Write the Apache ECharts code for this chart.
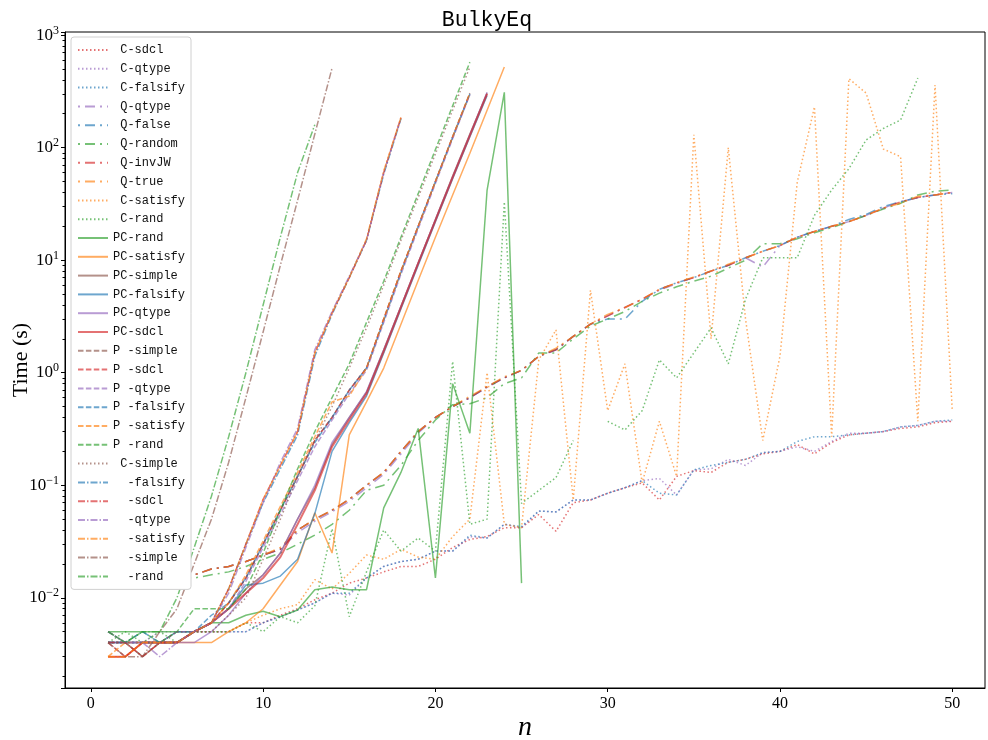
<!DOCTYPE html>
<html>
<head>
<meta charset="utf-8">
<script src="https://cdn.jsdelivr.net/npm/echarts@6/dist/echarts.min.js"></script>
<style>
  html, body { margin: 0; padding: 0; background: #fff; }
  #chart { width: 988px; height: 740px; }
</style>
</head>
<body>
<div id="chart"></div>
<script>
const nValues = [1, 2, 3, 4, 5, 6, 7, 8, 9, 10, 11, 12, 13, 14, 15, 16, 17, 18, 19, 20,
  21, 22, 23, 24, 25, 26, 27, 28, 29, 30, 31, 32, 33, 34, 35, 36, 37, 38, 39, 40,
  41, 42, 43, 44, 45, 46, 47, 48, 49, 50]

const xTicks = [0, 10, 20, 30, 40, 50]
const yMinorTicks = [0.002, 0.003, 0.004, 0.005, 0.006, 0.007, 0.008, 0.009,
  0.02, 0.03, 0.04, 0.05, 0.06, 0.07, 0.08, 0.09,
  0.2, 0.3, 0.4, 0.5, 0.6, 0.7, 0.8, 0.9,
  2, 3, 4, 5, 6, 7, 8, 9, 20, 30, 40, 50, 60, 70, 80, 90,
  200, 300, 400, 500, 600, 700, 800, 900]

// C- (dotted)
const cSdcl = [0.004, 0.004, 0.004, 0.004, 0.004, 0.005, 0.005, 0.005, 0.006, 0.006,
  0.007, 0.008, 0.0096, 0.011, 0.0135, 0.015, 0.017, 0.019, 0.019, 0.022,
  0.028, 0.033, 0.035, 0.042, 0.042, 0.055, 0.039, 0.07, 0.074, 0.085,
  0.095, 0.105, 0.074, 0.12, 0.135, 0.13, 0.16, 0.17, 0.19, 0.2,
  0.23, 0.19, 0.24, 0.28, 0.29, 0.3, 0.32, 0.33, 0.36, 0.37]
const cQtype = [0.005, 0.004, 0.004, 0.005, 0.005, 0.005, 0.005, 0.005, 0.005, 0.006,
  0.0068, 0.0078, 0.009, 0.011, 0.0106, 0.015, 0.019, 0.021, 0.022, 0.026,
  0.026, 0.035, 0.034, 0.045, 0.042, 0.059, 0.058, 0.074, 0.074, 0.085,
  0.095, 0.11, 0.115, 0.082, 0.137, 0.14, 0.17, 0.15, 0.195, 0.2,
  0.22, 0.2, 0.245, 0.29, 0.29, 0.3, 0.33, 0.34, 0.37, 0.37]
const cFalsify = [0.004, 0.004, 0.004, 0.004, 0.005, 0.005, 0.005, 0.005, 0.005, 0.006,
  0.0068, 0.0078, 0.009, 0.011, 0.011, 0.015, 0.019, 0.021, 0.022, 0.026,
  0.026, 0.036, 0.034, 0.045, 0.043, 0.059, 0.058, 0.074, 0.074, 0.085,
  0.095, 0.11, 0.085, 0.082, 0.137, 0.15, 0.16, 0.17, 0.195, 0.2,
  0.245, 0.27, 0.27, 0.28, 0.29, 0.3, 0.33, 0.34, 0.37, 0.38]
const cSatisfy = [0.004, 0.004, 0.004, 0.004, 0.004, 0.005, 0.005, 0.005, 0.006, 0.007,
  0.008, 0.0087, 0.0145, 0.012, 0.0165, 0.024, 0.022, 0.027, 0.023, 0.022,
  0.035, 0.05, 1.0, 0.045, 0.042, 1.3, 2.4, 0.074, 5.4, 0.46,
  1.2, 0.105, 0.37, 0.12, 130, 2.0, 100, 3.0, 0.25, 1.4,
  49, 230, 0.27, 410, 305, 97, 83, 0.37, 360, 0.46]
const cRand = [0.004, 0.005, 0.004, 0.005, 0.004, 0.005, 0.005, 0.005, 0.006, 0.005,
  0.0068, 0.006, 0.0085, 0.041, 0.0068, 0.017, 0.04, 0.026, 0.034, 0.026,
  1.26, 0.045, 0.05, 33, 0.069, 0.09, 0.117, 0.25, null, 0.37,
  0.31, 0.46, 1.3, 0.9, 1.5, 2.5, 1.2, 4.5, 10.5, 10.5,
  10.5, 25, 42, 65, 117, 148, 176, 415]
const cSimple = [0.004, 0.004, 0.004, 0.004, 0.005, 0.005, 0.005, 0.007, 0.01, 0.022,
  0.05, 0.12, 0.25, 0.5, 1.1, 2.5, 6, 15, 36, 88, 215, 520]

// Q- (long dash-dot)
const qQtype = [0.015, 0.015, 0.015, 0.015, 0.015, 0.016, 0.018, 0.019, 0.021, 0.024,
  0.027, 0.038, 0.048, 0.058, 0.072, 0.095, 0.125, 0.19, 0.29, 0.4,
  0.5, 0.6, 0.74, 0.9, 1.05, 1.4, 1.6, 2.1, 2.7, 3.2,
  3.8, 4.5, 5.4, 6.2, 7.0, 8.0, 9.0, 10.5, 8.7, 13.5,
  16, 18, 20, 22, 25, 29, 33, 36, 38, 40]
const qFalse = [0.015, 0.015, 0.015, 0.015, 0.015, 0.016, 0.018, 0.019, 0.021, 0.024,
  0.027, 0.04, 0.05, 0.06, 0.075, 0.1, 0.13, 0.2, 0.3, 0.4,
  0.5, 0.6, 0.75, 0.9, 1.05, 1.4, 1.6, 2.1, 2.7, 3.0,
  3.0, 4.3, 5.5, 6.3, 7.0, 8.0, 9.0, 10.5, 12, 13.5,
  16, 18, 20, 23, 25.5, 30, 33, 36, 38, 39]
const qRandom = [0.015, 0.015, 0.015, 0.015, 0.015, 0.015, 0.016, 0.017, 0.019, 0.022,
  0.025, 0.03, 0.036, 0.045, 0.06, 0.09, 0.1, 0.15, 0.25, 0.38,
  0.52, 0.53, 0.6, 0.8, 0.9, 1.5, 1.5, 2.0, 2.6, 3.0,
  3.5, 4.3, 5.1, 5.8, 6.5, 7.2, 8.5, 10, 14, 14,
  15.5, 17.5, 19.5, 22, 25, 28.5, 32, 38, 41, 42]
const qInvJW = [0.015, 0.015, 0.015, 0.015, 0.015, 0.016, 0.018, 0.019, 0.021, 0.024,
  0.027, 0.04, 0.05, 0.06, 0.075, 0.1, 0.13, 0.2, 0.3, 0.4,
  0.5, 0.6, 0.75, 0.9, 1.05, 1.4, 1.6, 2.1, 2.7, 3.2,
  3.8, 4.5, 5.5, 6.3, 7.0, 8.0, 9.0, 10.5, 12, 13.5,
  16, 18, 20, 22, 25, 29, 33, 36, 38, 40]
const qTrue = [0.015, 0.015, 0.015, 0.015, 0.015, 0.016, 0.018, 0.019, 0.021, 0.024,
  0.028, 0.04, 0.05, 0.06, 0.075, 0.1, 0.13, 0.2, 0.3, 0.4,
  0.5, 0.62, 0.75, 0.92, 1.05, 1.4, 1.65, 2.1, 2.7, 3.3,
  3.8, 4.5, 5.5, 6.3, 7.1, 8.0, 9.2, 10.5, 12, 13.5,
  16, 18, 20, 22, 25, 29, 32, 37, 38, 40]

// PC- (solid)
const pcRand = [0.005, 0.005, 0.005, 0.005, 0.005, 0.005, 0.006, 0.006, 0.007, 0.0076,
  0.0068, 0.0078, 0.0118, 0.0125, 0.0118, 0.0118, 0.063, 0.13, 0.32, 0.015,
  0.8, 0.29, 42, 310, 0.0135]
const pcSatisfy = [0.003, 0.003, 0.004, 0.004, 0.004, 0.004, 0.004, 0.005, 0.006, 0.008,
  0.013, 0.021, 0.057, 0.025, 0.28, 0.55, 1.1, 2.7, 6.6, 16,
  38, 89, 215, 520]
const pcSimple = [0.004, 0.004, 0.003, 0.004, 0.004, 0.005, 0.006, 0.008, 0.012, 0.016,
  0.025, 0.05, 0.095, 0.23, 0.4, 0.67, 1.6, 3.9, 9.5, 23,
  56, 132, 305]
const pcFalsify = [0.004, 0.004, 0.004, 0.004, 0.005, 0.005, 0.006, 0.008, 0.013, 0.0135,
  0.0156, 0.022, 0.056, 0.2, 0.36, 0.62, 1.5, 3.7, 9, 22,
  53, 125, 290]
const pcQtype = [0.004, 0.004, 0.004, 0.004, 0.004, 0.004, 0.005, 0.007, 0.011, 0.016,
  0.025, 0.05, 0.1, 0.24, 0.4, 0.68, 1.6, 3.9, 9.5, 23,
  55, 130, 310]
const pcSdcl = [0.003, 0.003, 0.004, 0.004, 0.004, 0.005, 0.006, 0.008, 0.011, 0.015,
  0.023, 0.045, 0.09, 0.22, 0.38, 0.65, 1.55, 3.8, 9.3, 22.5,
  54, 128, 300]

// P - (dashed)
const pSimple = [0.004, 0.004, 0.003, 0.004, 0.004, 0.005, 0.006, 0.009, 0.015, 0.03,
  0.06, 0.12, 0.25, 0.4, 0.7, 1.1, 3.0, 8, 20, 50, 125, 305]
const pSdcl = [0.004, 0.003, 0.004, 0.004, 0.004, 0.005, 0.006, 0.009, 0.015, 0.03,
  0.06, 0.12, 0.25, 0.4, 0.7, 1.1, 3.0, 8, 20, 50, 124, 300]
const pQtype = [0.005, 0.004, 0.004, 0.004, 0.005, 0.005, 0.006, 0.008, 0.014, 0.028,
  0.055, 0.11, 0.22, 0.38, 0.65, 1.05, 2.8, 7.5, 19, 48, 120, 295]
const pFalsify = [0.004, 0.004, 0.004, 0.004, 0.004, 0.005, 0.007, 0.009, 0.015, 0.03,
  0.06, 0.12, 0.24, 0.4, 0.7, 1.1, 2.9, 7.8, 20, 50, 124, 300]
const pSatisfy = [0.003, 0.004, 0.004, 0.004, 0.004, 0.005, 0.006, 0.009, 0.016, 0.032,
  0.065, 0.13, 0.27, 0.55, 0.62, 1.1, 3.0, 8, 20, 50, 125, 305]
const pRand = [0.005, 0.004, 0.005, 0.004, 0.005, 0.008, 0.008, 0.008, 0.012, 0.025,
  0.06, 0.14, 0.3, 0.6, 1.2, 2.8, 6.5, 16, 39, 96, 235, 575]

// unnamed prefix (dash-dot)
const dFalsify = [0.004, 0.004, 0.005, 0.004, 0.004, 0.005, 0.006, 0.012, 0.03, 0.07,
  0.14, 0.28, 1.4, 3.3, 7, 15, 58, 180]
const dSdcl = [0.004, 0.004, 0.003, 0.004, 0.004, 0.005, 0.006, 0.012, 0.03, 0.075,
  0.15, 0.3, 1.5, 3.4, 7, 15, 60, 185]
const dQtype = [0.005, 0.004, 0.004, 0.003, 0.004, 0.005, 0.006, 0.011, 0.028, 0.07,
  0.16, 0.32, 1.6, 3.5, 7.2, 15, 60, 182]
const dSatisfy = [0.003, 0.003, 0.004, 0.004, 0.004, 0.005, 0.006, 0.012, 0.03, 0.075,
  0.15, 0.3, 1.5, 3.4, 7, 15.5, 62, 185]
const dSimple = [0.004, 0.003, 0.003, 0.005, 0.008, 0.02, 0.05, 0.16, 0.6, 2.3,
  9, 34, 132, 509]
const dRand = [0.005, 0.004, 0.005, 0.005, 0.01, 0.028, 0.08, 0.27, 1.0, 4,
  16, 60, 160]

const red = '#d62728'
const purple = '#9467bd'
const blue = '#1f77b4'
const green = '#2ca02c'
const orange = '#ff7f0e'
const brown = '#8c564b'

const DOT = [1.5, 2.5]
const DASH = [5.5, 2.4]
const DASHDOT = [7, 2, 1.5, 2]
const QDASH = [2, 5, 10, 5]
const SOLID = 'solid'

const lines = [
  [' C-sdcl', cSdcl, red, DOT],
  [' C-qtype', cQtype, purple, DOT],
  [' C-falsify', cFalsify, blue, DOT],
  [' Q-qtype', qQtype, purple, QDASH],
  [' Q-false', qFalse, blue, QDASH],
  [' Q-random', qRandom, green, QDASH],
  [' Q-invJW', qInvJW, red, QDASH],
  [' Q-true', qTrue, orange, QDASH],
  [' C-satisfy', cSatisfy, orange, DOT],
  [' C-rand', cRand, green, DOT],
  ['PC-rand', pcRand, green, SOLID],
  ['PC-satisfy', pcSatisfy, orange, SOLID],
  ['PC-simple', pcSimple, brown, SOLID],
  ['PC-falsify', pcFalsify, blue, SOLID],
  ['PC-qtype', pcQtype, purple, SOLID],
  ['PC-sdcl', pcSdcl, red, SOLID],
  ['P -simple', pSimple, brown, DASH],
  ['P -sdcl', pSdcl, red, DASH],
  ['P -qtype', pQtype, purple, DASH],
  ['P -falsify', pFalsify, blue, DASH],
  ['P -satisfy', pSatisfy, orange, DASH],
  ['P -rand', pRand, green, DASH],
  [' C-simple', cSimple, brown, DOT],
  ['  -falsify', dFalsify, blue, DASHDOT],
  ['  -sdcl', dSdcl, red, DASHDOT],
  ['  -qtype', dQtype, purple, DASHDOT],
  ['  -satisfy', dSatisfy, orange, DASHDOT],
  ['  -simple', dSimple, brown, DASHDOT],
  ['  -rand', dRand, green, DASHDOT],
]

const serif = 'Liberation Serif'
const mono = 'Liberation Mono'
const yMin = 0.00158
const yMax = 1065

const myChart = echarts.init(document.getElementById('chart'), null, { renderer: 'canvas' })

const series = lines.map(([name, values, color, type]) => ({
  name,
  type: 'line',
  symbol: 'none',
  showSymbol: false,
  silent: true,
  animation: false,
  yAxisIndex: 0,
  lineStyle: { color, width: name === 'PC-sdcl' ? 2 : 1.5, type, opacity: 0.65 },
  itemStyle: { color, opacity: 0 },
  data: values.map((v, i) => [nValues[i], v === null ? '-' : v]),
}))

const expLabel = (v) => {
  const l = Math.log10(v)
  const e = Math.round(l)
  if (Math.abs(l - e) > 1e-6) return ''
  return `{b|10}{e|${e < 0 ? `\u2212${-e}` : e}}`
}

const option = {
  animation: false,
  backgroundColor: '#fff',
  title: {
    text: 'BulkyEq',
    left: 482,
    top: 4,
    textAlign: 'center',
    textStyle: { fontFamily: mono, fontSize: 21.5, fontWeight: 'normal', color: '#000' },
  },
  legend: {
    orient: 'vertical',
    left: 71,
    top: 37,
    padding: [6, 6, 6, 6],
    itemWidth: 30,
    itemHeight: 14,
    itemGap: 4.8,
    backgroundColor: '#fff',
    borderColor: '#d0d0d0',
    borderWidth: 1,
    borderRadius: 3,
    itemStyle: { opacity: 0 },
    textStyle: { fontFamily: mono, fontSize: 12, color: '#111', lineHeight: 14 },
    data: lines.map((l) => l[0]),
  },
  grid: {
    left: 65,
    right: 3,
    top: 32,
    bottom: 52,
    show: true,
    borderColor: '#000',
    borderWidth: 1,
    containLabel: false,
    outerBoundsMode: 'none',
  },
  xAxis: {
    type: 'value',
    min: -1.5,
    max: 51.9,
    name: 'n',
    nameLocation: 'middle',
    nameGap: 26,
    nameMoveOverlap: false,
    nameTextStyle: { fontFamily: serif, fontStyle: 'italic', fontSize: 28, color: '#000' },
    axisLine: { show: true, onZero: false, lineStyle: { color: '#000', width: 1 } },
    axisTick: { show: true, length: 4, lineStyle: { color: '#000' }, customValues: xTicks },
    axisLabel: { fontFamily: serif, fontSize: 16, color: '#000', margin: 8, customValues: xTicks },
    splitLine: { show: false },
  },
  yAxis: [{
    type: 'log',
    logBase: 10,
    min: yMin,
    max: yMax,
    name: 'Time (s)',
    nameLocation: 'middle',
    nameGap: 33,
    nameMoveOverlap: false,
    nameTextStyle: { fontFamily: serif, fontSize: 22, color: '#000' },
    axisLine: { show: true, onZero: false, lineStyle: { color: '#000', width: 1 } },
    axisTick: { show: true, length: 4, lineStyle: { color: '#000' } },
    axisLabel: {
      color: '#000',
      margin: 6,
      formatter: expLabel,
      rich: {
        b: { fontFamily: serif, fontSize: 17, color: '#000' },
        e: { fontFamily: serif, fontSize: 12, color: '#000', padding: [0, 0, 9, 0] },
      },
    },
    splitLine: { show: false },
  }, {
    // minor ticks only, placed in log10 space
    type: 'value',
    min: Math.log10(yMin),
    max: Math.log10(yMax),
    position: 'left',
    axisLine: { show: false, onZero: false },
    axisTick: { show: true, length: 2.5, lineStyle: { color: '#000' }, customValues: yMinorTicks.map(Math.log10) },
    axisLabel: { show: false },
    splitLine: { show: false },
  }],
  series,
}

myChart.setOption(option)
</script>
</body>
</html>
